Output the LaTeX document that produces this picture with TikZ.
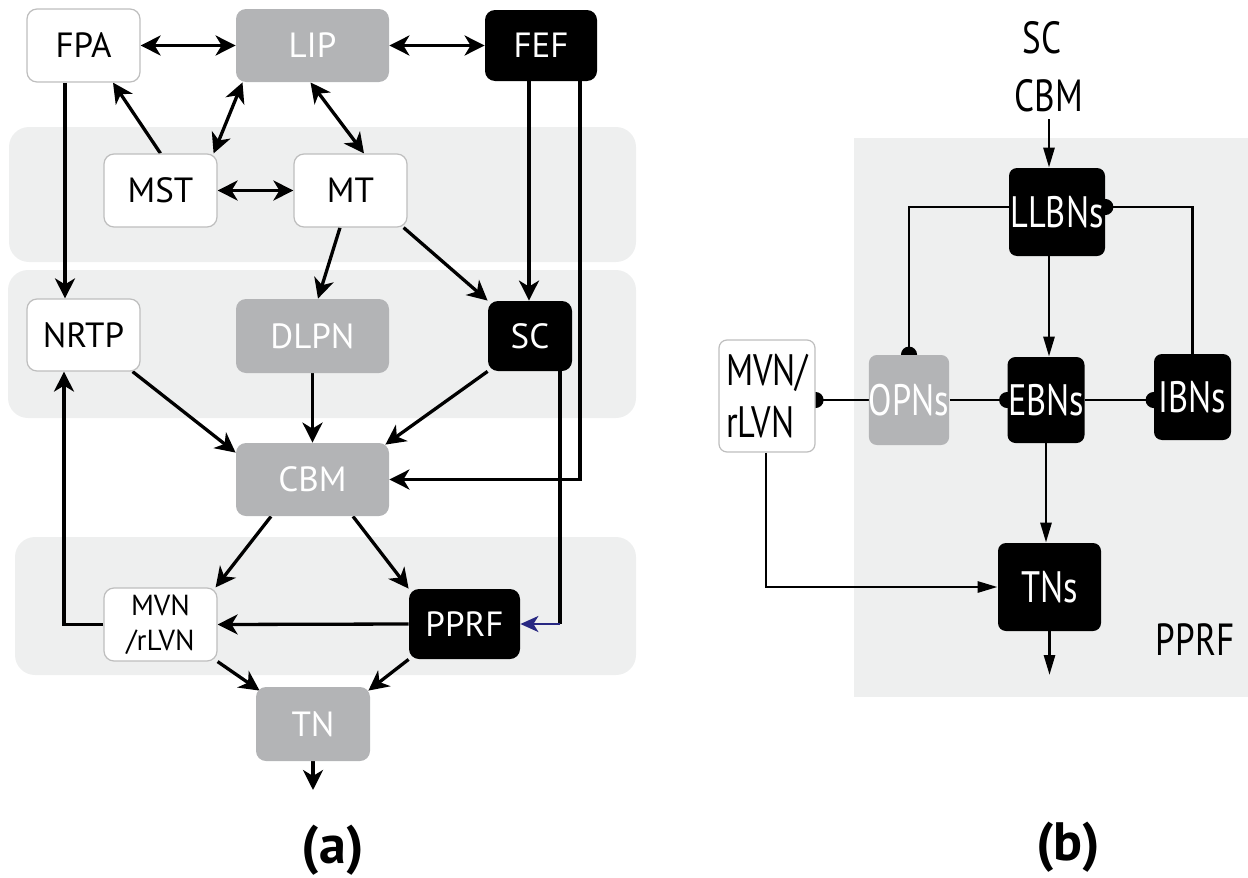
\documentclass[tikz,border=0pt]{standalone}
\usepackage{fontspec}
\setmainfont{PT Sans}
\newfontfamily\condfont[FakeStretch=0.78]{PT Sans}
\usetikzlibrary{arrows.meta,calc}
\definecolor{boxgray}{RGB}{179,180,182}
\definecolor{bandgray}{RGB}{238,239,239}
\definecolor{edgegray}{RGB}{190,190,190}
\definecolor{navyline}{RGB}{40,40,130}
\pgfdeclarelayer{bands}
\pgfdeclarelayer{links}
\pgfsetlayers{bands,links,main}
\tikzset{
  box/.style={rounded corners=5pt, inner sep=0pt, font=\fontsize{17.5}{21}\selectfont},
  whitebox/.style={box, fill=white, draw=edgegray, line width=0.6pt, text=black},
  graybox/.style={box, fill=boxgray, text=white},
  blackbox/.style={box, fill=black, text=white},
  bbox/.style={rounded corners=4pt, inner sep=0pt, font=\condfont\fontsize{22}{26}\selectfont},
  bwhite/.style={bbox, fill=white, draw=edgegray, line width=0.6pt, text=black},
  bgray/.style={bbox, fill=boxgray, text=white},
  bblack/.style={bbox, fill=black, text=white},
  blabel/.style={font=\condfont\fontsize{22.5}{26}\selectfont},
  alink/.style={line width=1.65pt, -{Stealth[length=10pt,width=10pt,inset=3pt]}},
  alinkboth/.style={line width=1.65pt, {Stealth[length=10pt,width=10pt,inset=3pt]}-{Stealth[length=10pt,width=10pt,inset=3pt]}},
  blink/.style={line width=1.4pt, -{Triangle[length=10pt,width=5.5pt]}},
  binh/.style={line width=1.4pt, -{Circle[length=8pt]}, shorten >=-4pt},
}
\begin{document}
\begin{tikzpicture}[x=0.5pt,y=-0.5pt]
\useasboundingbox (0,0) rectangle (1248,878);

% ---------- shaded levels ----------
\begin{pgfonlayer}{bands}
  \fill[bandgray, rounded corners=10pt] (9,127) rectangle (636,262);
  \fill[bandgray, rounded corners=10pt] (8,270) rectangle (636,418);
  \fill[bandgray, rounded corners=10pt] (15,537) rectangle (636,675);
  \fill[bandgray] (854,138) rectangle (1248,697);
\end{pgfonlayer}

% ---------- panel (a) nodes ----------
\node[whitebox, minimum width=56.5pt, minimum height=36.5pt] (FPA)  at (83.5,45.5) {FPA};
\node[graybox,  minimum width=76.5pt, minimum height=36.5pt] (LIP)  at (312.5,45.5) {LIP};
\node[blackbox, minimum width=56pt,   minimum height=35.5pt] (FEF)  at (541,45.5) {FEF};
\node[whitebox, minimum width=56.5pt, minimum height=36.5pt] (MST)  at (160.5,190.5) {MST};
\node[whitebox, minimum width=56.5pt, minimum height=36.5pt] (MT)   at (350.5,190.5) {MT};
\node[whitebox, minimum width=56.5pt, minimum height=36pt]   (NRTP) at (83.5,335) {NRTP};
\node[graybox,  minimum width=76.5pt, minimum height=37pt]   (DLPN) at (312.5,336) {DLPN};
\node[blackbox, minimum width=42pt,   minimum height=35pt]   (SC)   at (530,336) {SC};
\node[graybox,  minimum width=76.5pt, minimum height=36.5pt] (CBM)  at (312.5,479.5) {CBM};
\node[whitebox, minimum width=56.5pt, minimum height=36.5pt, align=center,
      font=\fontsize{14.5}{17.5}\selectfont] (MVN) at (160.5,624.5) {MVN\\/rLVN};
\node[blackbox, minimum width=55.5pt, minimum height=35pt]   (PPRF) at (464.5,624) {PPRF};
\node[graybox,  minimum width=57pt,   minimum height=37pt]   (TN)   at (313,724) {TN};
\coordinate (tnout) at (313,790);
\node[font=\bfseries\fontsize{27}{30}\selectfont] (labA) at (333,850) {(a)};

% ---------- panel (b) nodes ----------
\node[blabel] (SCb)  at (1042,38) {SC};
\node[blabel] (CBMb) at (1049,96) {CBM};
\node[bblack, minimum width=48pt,   minimum height=44pt] (LLBN) at (1057,212) {LLBNs};
\node[bgray,  minimum width=40pt,   minimum height=45pt] (OPN)  at (909,400) {OPNs};
\node[bblack, minimum width=38.5pt, minimum height=43pt] (EBN)  at (1046,400) {EBNs};
\node[bblack, minimum width=38.5pt, minimum height=43pt] (IBN)  at (1192.5,397) {IBNs};
\node[bwhite, minimum width=48pt,   minimum height=56pt, align=left] (MVNb) at (767,396) {MVN/\\rLVN};
\node[bblack, minimum width=51.5pt, minimum height=44pt] (TNs)  at (1049.5,587) {TNs};
\node[blabel] (PPRFb) at (1195,640) {PPRF};
\coordinate (tnsout) at (1049.5,675);
\node[font=\bfseries\fontsize{27}{30}\selectfont] (labB) at (1068,847) {(b)};

% ---------- connectors ----------
\begin{pgfonlayer}{links}
  % panel (a)
  \draw[alinkboth] (FPA.east) -- (LIP.west);
  \draw[alinkboth] (LIP.east) -- (FEF.west);
  \draw[alink] (MST.north) -- ([xshift=14.75pt]FPA.south);
  \draw[alinkboth] ([xshift=-35pt]LIP.south) -- ([xshift=-2pt]MST.north east);
  \draw[alinkboth] ([xshift=-1pt]LIP.south) -- ([xshift=6.75pt]MT.north);
  \draw[alinkboth] (MST.east) -- (MT.west);
  \draw[alink] ([xshift=-9.25pt]FPA.south) -- ([xshift=-9.25pt]NRTP.north);
  \draw[alink] ([xshift=-5.25pt]MT.south) -- ([xshift=2.75pt]DLPN.north);
  \draw[alink] ([xshift=-2pt]MT.south east) -- (SC.north west);
  \draw[alink] ([xshift=-6pt]FEF.south) -- ([xshift=-6pt]FEF.south |- SC.north);
  \draw[alink] ([xshift=19.5pt]FEF.south) |- (CBM.east);
  \draw[alink] ([xshift=-4pt]NRTP.south east) -- ([yshift=-5pt]CBM.north west);
  \draw[alink] (DLPN.south) -- (CBM.north);
  \draw[alink] (SC.south west) -- ([xshift=-2pt,yshift=-1pt]CBM.north east);
  \coordinate (scturn) at ([xshift=15pt]SC.south |- PPRF.east);
  \draw[line width=1.65pt] ([xshift=15pt]SC.south) -- (scturn);
  \draw[line width=1.1pt, navyline, -{Stealth[length=9pt,width=8pt,inset=2.5pt]}] (scturn) -- (PPRF.east);
  \draw[alink] ([xshift=-20.75pt]CBM.south) -- ([xshift=-1pt]MVN.north east);
  \draw[alink] ([xshift=20.25pt]CBM.south) -- (PPRF.north west);
  \draw[alink] (PPRF.west) -- (MVN.east);
  \draw[alink] (MVN.west) -| ([xshift=-9.75pt]NRTP.south);
  \draw[alink] (MVN.south east) -- ([xshift=2pt,yshift=-2pt]TN.north west);
  \draw[alink] (PPRF.south west) -- ([xshift=-1pt,yshift=-2pt]TN.north east);
  \draw[alink] (TN.south) -- (tnout);
  % panel (b)
  \draw[blink] (CBMb.south) -- (CBMb.south |- LLBN.north);
  \draw[blink] ([xshift=-4pt]LLBN.south) -- ([xshift=-4pt]LLBN.south |- EBN.north);
  \draw[binh] ([yshift=2.5pt]LLBN.west) -| (OPN.north);
  \draw[binh] (IBN.north) |- ([yshift=2.5pt]LLBN.east);
  \draw[binh] (OPN.west) -- (OPN.west -| MVNb.east);
  \draw[binh] (OPN.east) -- (EBN.west);
  \draw[binh] (EBN.east) -- (EBN.east -| IBN.west);
  \draw[blink] (EBN.south) -- (EBN.south |- TNs.north);
  \draw[blink] ([xshift=-0.5pt]MVNb.south) |- (TNs.west);
  \draw[blink] (TNs.south) -- (tnsout);
\end{pgfonlayer}
\end{tikzpicture}
\end{document}
